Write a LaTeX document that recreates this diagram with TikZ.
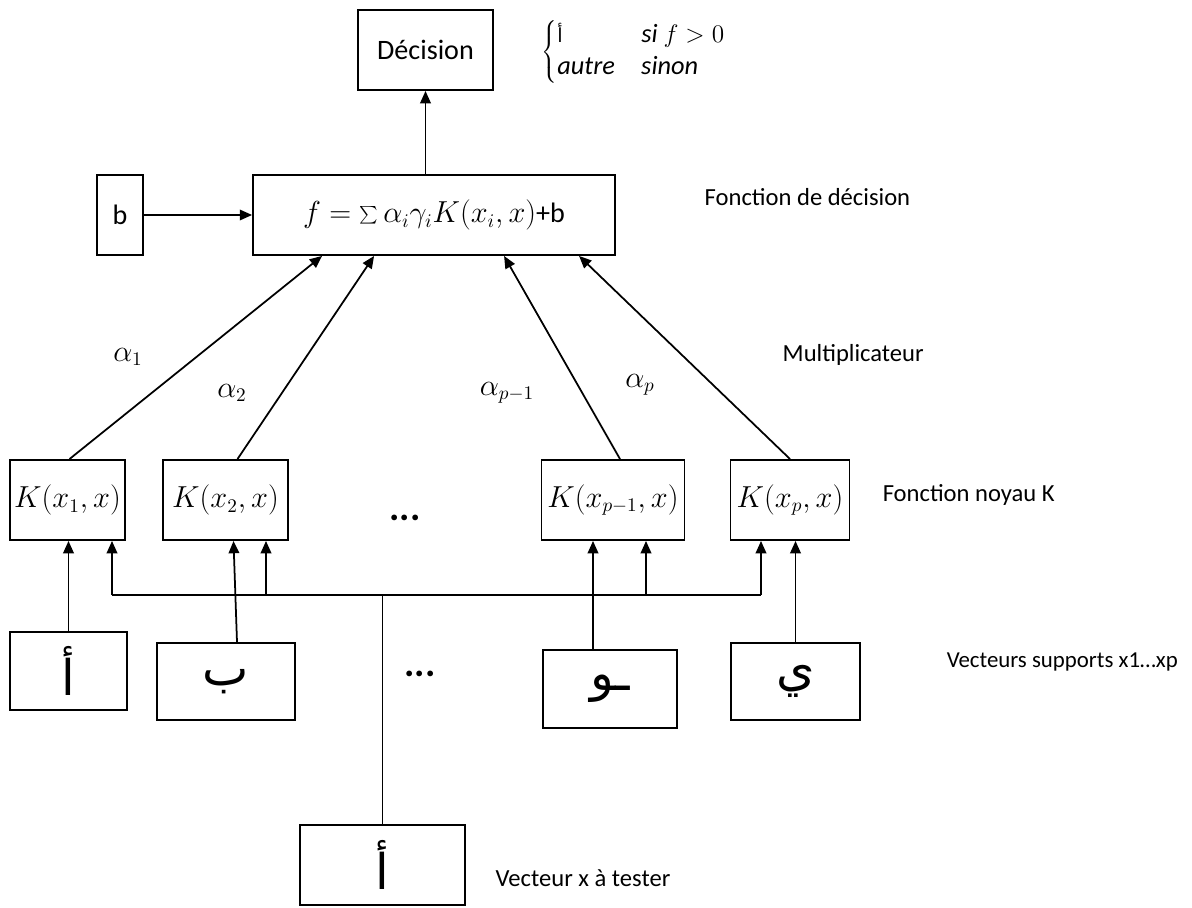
\documentclass[tikz,border=0pt]{standalone}
\usepackage{fontspec}
\setmainfont{Carlito}
\newfontfamily\arabicfont[Script=Arabic]{DejaVu Sans}
\TeXXeTstate=1
\usetikzlibrary{arrows.meta,calc}
\newcommand{\arab}[1]{{\arabicfont\beginR #1\endR}}

\begin{document}
\begin{tikzpicture}[x=0.02cm, y=-0.02cm, >={Triangle[length=7pt,width=6pt]}, line width=1pt,
  box/.style={draw, line width=1.1pt, inner sep=0pt, font=\fontsize{16}{19}\selectfont},
  letter/.style={box, font=\fontsize{28}{30}\arabicfont},
  lbl/.style={anchor=west, font=\fontsize{14}{17}\selectfont},
  coef/.style={font=\fontsize{16}{19}\selectfont},
  dots/.style={font=\fontsize{22}{24}\selectfont\bfseries}]
\useasboundingbox (0,0) rectangle (1192,908);

% decision and sum
\node[box, minimum width=2.7cm, minimum height=1.6cm] (decision) at (425.5,50) {Décision};
\node[box, minimum width=7.24cm, minimum height=1.6cm] (fbox) at (434,215) {$f=\sum\alpha_i\gamma_i K(x_i,x)$+b};
\node[box, minimum width=0.92cm, minimum height=1.6cm] (bbox) at (120,215) {b};
\node[lbl, font=\fontsize{15}{18}\selectfont] (rule) at (535,52) {$\left\{\begin{array}{@{}l@{\quad}l}\mbox{\fontsize{11}{12}\arab{أ}} & \mathit{si}\ f>0\\ \mathit{autre} & \mathit{sinon}\end{array}\right.$};

% kernels
\node[box, minimum width=2.3cm, minimum height=1.6cm] (k1) at (67.5,500) {$K(x_1,x)$};
\node[box, minimum width=2.5cm, minimum height=1.6cm] (k2) at (225.5,500) {$K(x_2,x)$};
\node[box, minimum width=2.86cm, minimum height=1.6cm] (kq) at (613,500) {$K(x_{p-1},x)$};
\node[box, minimum width=2.38cm, minimum height=1.6cm] (kp) at (790,500) {$K(x_p,x)$};
\node[dots] (kdots) at (405,518) {...};

% support vectors
\node[letter, minimum width=2.34cm, minimum height=1.56cm] (s1) at (68.5,671) {\arab{أ}};
\node[letter, minimum width=2.76cm, minimum height=1.54cm] (s2) at (226,681.5) {\arab{ب}};
\node[letter, minimum width=2.68cm, minimum height=1.56cm] (sq) at (610,689) {\arab{ـو}};
\node[letter, minimum width=2.58cm, minimum height=1.54cm] (sp) at (795.5,681.5) {\arab{ي}};
\node[dots] (sdots) at (420,674) {...};
\node[letter, minimum width=3.3cm, minimum height=1.6cm] (test) at (382.5,865) {\arab{أ}};

% labels
\node[lbl] (l1) at (698,197) {Fonction de décision};
\node[lbl] (l2) at (776,355) {Multiplicateur};
\node[lbl] (l3) at (876,495) {Fonction noyau K};
\node[lbl, font=\fontsize{13}{16}\selectfont] (l4) at (940,662) {Vecteurs supports x1…xp};
\node[lbl] (l5) at (489,878) {Vecteur x à tester};
\node[coef] (a1) at (128,357) {$\alpha_1$};
\node[coef] (a2) at (232,393) {$\alpha_2$};
\node[coef] (aq) at (507,393) {$\alpha_{p-1}$};
\node[coef] (ap) at (640,385) {$\alpha_p$};

% connectors
\draw[->] (fbox.north -| decision.south) -- (decision.south);
\draw[->] (bbox.east) -- (fbox.west);
\draw[->] ($(k1.north)+(2,0)$) -- ($(fbox.south west)+(70,0)$);
\draw[->] ($(k2.north)+(12,0)$) -- ($(fbox.south west)+(122,0)$);
\draw[->] ($(kq.north)+(7,0)$) -- ($(fbox.south west)+(252,0)$);
\draw[->] ($(kp.north)+(0,0)$) -- ($(fbox.south west)+(327,0)$);

\draw[->] (s1.north) -- (s1.north |- k1.south);
\draw[->] ($(s2.north)+(11,0)$) -- ($(k2.south)+(8,0)$);
\draw[->] ($(sq.north)+(-17,0)$) -- ($(kq.south)+(-20,0)$);
\draw[->] (sp.north) -- (sp.north |- kp.south);

\coordinate (bus) at (383,595);
\coordinate (t1) at (112,595);
\coordinate (t2) at (266,595);
\coordinate (tq) at (646,595);
\coordinate (tp) at (761,595);
\draw (test.north) -- (test.north |- bus);
\draw (t1) -- (tp);
\draw[->] (t1) -- (t1 |- k1.south);
\draw[->] (t2) -- (t2 |- k2.south);
\draw[->] (tq) -- (tq |- kq.south);
\draw[->] (tp) -- (tp |- kp.south);
\end{tikzpicture}
\end{document}
